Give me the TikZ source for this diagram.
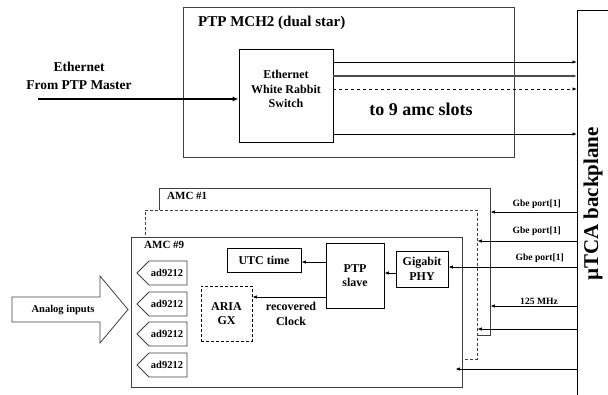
\documentclass[tikz,border=0pt]{standalone}
\usepackage{fontspec}
\setmainfont{Liberation Serif}
\usetikzlibrary{arrows.meta,calc}
\tikzset{
	box/.style={draw=black!75, line width=0.8pt, fill=white, inner sep=0pt},
	inbox/.style={draw=black, line width=0.8pt, fill=white, inner sep=1pt, align=center, font=\fontsize{12}{14.5}\selectfont\bfseries},
	dbox/.style={dash pattern=on 3pt off 2pt},
	sig/.style={-{Latex[length=4.5pt,width=3.5pt]}, line width=0.8pt},
	txt/.style={align=center, inner sep=1pt, font=\fontsize{12}{14.5}\selectfont\bfseries},
	small/.style={inner sep=1pt, font=\fontsize{9.6}{11}\selectfont\bfseries},
	adc/.style={inner sep=1pt, font=\fontsize{10.5}{12}\selectfont\bfseries},
}
\begin{document}
\begin{tikzpicture}[x=1pt,y=-1pt]
			%%%%% START %%%%%
			\useasboundingbox (0,0) rectangle (608,394);
			
			% backplane
			\node[box, draw=black, minimum width=43, minimum height=394, anchor=north west] (bp) at (577,10) {};
			\node[rotate=90, inner sep=0pt, font=\fontsize{21}{21}\selectfont\bfseries] (bptxt) at (593,204) {µTCA backplane};
			
			% MCH
			\node[box, minimum width=331, minimum height=150] (mch) at (348.5,82) {};
			\node[anchor=west, inner sep=1pt, font=\fontsize{15}{15}\selectfont\bfseries] (mchtitle) at (197,23) {PTP MCH2 (dual star)};
			\node[box, draw=black, minimum width=94, minimum height=93] (switch) at (286,95.5) {};
			\node[txt] (switchtxt) at (286,89) {Ethernet\\White Rabbit\\Switch};
			
			\node[txt, font=\fontsize{13.5}{17.5}\selectfont\bfseries] (ethlbl) at (79,76) {Ethernet\\From PTP Master};
			\coordinate (ethin) at (38,99);
			\draw[sig, line width=1.8pt, -{Latex[length=6pt,width=5pt]}] (ethin) -- (ethin -| switch.west);
			
			\coordinate (o1) at (333,62);
			\coordinate (o2) at (333,76);
			\coordinate (o3) at (333,89);
			\coordinate (o4) at (333,134);
			\draw[sig] (o1) -- (o1 -| bp.west);
			\draw[sig, line width=1.6pt, draw=black!70, -{Latex[length=4.5pt,width=3.5pt]}] (o2) -- (o2 -| bp.west);
			\draw[sig, dashed] (o3) -- (o3 -| bp.west);
			\draw[sig, line width=1pt] (o4) -- (o4 -| bp.west);
			\node[inner sep=1pt, font=\fontsize{18}{18}\selectfont\bfseries] (slots) at (421,109) {to 9 amc slots};
			
			% AMC cards
			\node[box, minimum width=331, minimum height=147] (amcone) at (324.5,261.5) {};
			\node[small, font=\fontsize{11}{11}\selectfont\bfseries, anchor=west] (amconelbl) at (166,196) {AMC \#1};
			\node[box, dbox, minimum width=332, minimum height=149] (amcmid) at (311,284.5) {};
			\node[box, minimum width=331, minimum height=150] (amcnine) at (296.5,312) {};
			\node[small, font=\fontsize{11}{11}\selectfont\bfseries, anchor=west] (amcninelbl) at (143,245) {AMC \#9};
			
			\node[inbox, minimum width=74, minimum height=24] (utc) at (264,260) {UTC time};
			\node[inbox, minimum width=58, minimum height=65] (ptp) at (355,275.5) {PTP\\slave};
			\node[inbox, minimum width=52, minimum height=36] (phy) at (422,269) {Gigabit\\PHY};
			\node[inbox, dbox, minimum width=51, minimum height=55] (aria) at (226.5,313.5) {ARIA\\GX};
			
			\coordinate (a1) at (326,262);
			\coordinate (a2) at (396,273);
			\coordinate (a3) at (326,297);
			\draw[sig] (a1) -- (a1 -| utc.east);
			\draw[sig] (a2) -- (a2 -| ptp.east);
			\draw[sig] (a3) -- (a3 -| aria.east);
			\node[txt] (recclk) at (291,314) {recovered\\Clock};
			
			\foreach \y [count=\i] in {273,304,334,365} {
				\draw[draw=black!75, line width=0.8pt] (149,\y-12) -- (187,\y-12) -- (187,\y+12) -- (149,\y+12) -- (137,\y) -- cycle;
				\node[adc] (adc\i) at (167,\y) {ad9212};
			}
			
			% analog input
			\draw[draw=black!75, line width=0.8pt] (12,297) -- (100,297) -- (100,276) -- (128,309.5) -- (100,343) -- (100,322) -- (12,322) -- cycle;
			\node[adc] (analog) at (63,310) {Analog inputs};
			
			% backplane links
			\coordinate (b1) at (577,212);
			\coordinate (b2) at (577,241);
			\coordinate (b3) at (577,267);
			\coordinate (b4) at (577,306);
			\coordinate (b5) at (577,329);
			\coordinate (b6) at (577,369);
			\draw[sig] (b1) -- (b1 -| amcone.east);
			\draw[sig] (b2) -- (b2 -| amcmid.east);
			\draw[sig] (b3) -- (b3 -| phy.east);
			\draw[sig] (b4) -- (b4 -| amcone.east);
			\draw[sig] (b5) -- (b5 -| amcmid.east);
			\draw[sig, shorten >=-7pt] (b6) -- (b6 -| amcnine.east);
			\node[small, anchor=east] (gbe1) at (562,204) {Gbe port[1]};
			\node[small, anchor=east] (gbe2) at (562,231) {Gbe port[1]};
			\node[small, anchor=east] (gbe3) at (565,258) {Gbe port[1]};
			\node[small, anchor=east] (clk) at (559,301) {125 MHz};
			
			%%%%% END %%%%%
\end{tikzpicture}
\end{document}
